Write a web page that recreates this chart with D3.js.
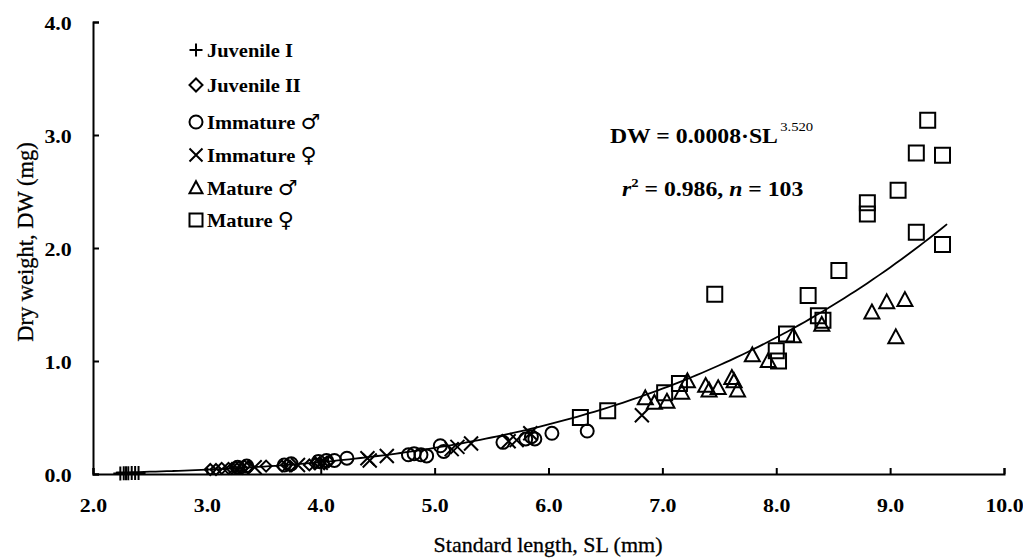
<!DOCTYPE html>
<html>
<head>
<meta charset="utf-8">
<script src="https://cdn.jsdelivr.net/npm/d3@7"></script>
<style>
  body { margin: 0; background: #fff; }
  svg text { font-family: "Liberation Serif", "Times New Roman", serif; font-weight: bold; fill: #000; }
  .sym { font-family: "DejaVu Sans", sans-serif; font-weight: normal; }
</style>
</head>
<body>
<div id="chart"></div>
<script>
// data: [SL (mm), DW (mg)]
const juvenileI = [[2.24,0.005],[2.27,0.006],[2.29,0.006],[2.31,0.007],[2.34,0.008],[2.37,0.008],[2.40,0.009]];
const juvenileII = [[3.03,0.04],[3.08,0.04],[3.13,0.05],[3.19,0.05],[3.22,0.05],[3.25,0.06],[3.28,0.06],[3.31,0.05],
  [3.33,0.07],[3.36,0.06],[3.52,0.07],[3.66,0.07],[3.70,0.08],[3.73,0.07],[3.90,0.08],[3.95,0.09],[3.99,0.10],[4.03,0.09],[4.07,0.11]];
const immatureMale = [[3.27,0.06],[3.35,0.07],[3.68,0.08],[3.74,0.09],[3.98,0.11],[4.05,0.12],[4.12,0.12],[4.23,0.14],
  [4.77,0.17],[4.82,0.18],[4.88,0.17],[4.93,0.16],[5.05,0.25],[5.08,0.20],[5.60,0.28],[5.80,0.31],[5.85,0.33],[5.88,0.31],[6.03,0.36],[6.34,0.38]];
const immatureFemale = [[3.42,0.06],[3.80,0.08],[4.00,0.10],[4.41,0.14],[4.43,0.12],[4.58,0.16],[5.15,0.22],[5.20,0.24],
  [5.32,0.27],[5.65,0.29],[5.72,0.30],[5.84,0.36],[6.82,0.52]];
const matureMale = [[6.85,0.67],[6.93,0.63],[7.04,0.64],[7.17,0.72],[7.22,0.82],[7.38,0.78],[7.41,0.74],[7.49,0.76],
  [7.61,0.85],[7.63,0.82],[7.66,0.74],[7.79,1.05],[7.93,1.00],[8.15,1.22],[8.40,1.32],[8.84,1.43],[8.97,1.52],[9.13,1.54],[9.05,1.21]];
const matureFemale = [[6.28,0.50],[6.52,0.56],[7.02,0.72],[7.15,0.80],[7.46,1.59],[8.00,1.09],[8.02,1.00],[8.09,1.24],
  [8.28,1.58],[8.37,1.40],[8.41,1.36],[8.55,1.80],[8.80,2.40],[8.80,2.30],[9.07,2.51],[9.23,2.84],[9.33,3.13],[9.46,2.82],[9.23,2.14],[9.46,2.03]];

const legendNames = ["Juvenile I", "Juvenile II", "Immature", "Immature", "Mature", "Mature"];
const legendSex = ["", "", "\u2642", "\u2640", "\u2642", "\u2640"];
const xTicks = [2, 3, 4, 5, 6, 7, 8, 9, 10];
const yTicks = [0, 1, 2, 3, 4];

// fitted power curve DW = a * SL^b
const fitA = 0.0008, fitB = 3.520;
const fitRange = [2.2, 9.5];

const width = 1023, height = 559;
const margin = { top: 22, right: 19, bottom: 85, left: 93 };

const svg = d3.select("#chart").append("svg")
  .attr("width", width).attr("height", height);

const x = d3.scaleLinear().domain([2, 10]).range([margin.left, width - margin.right]);
const y = d3.scaleLinear().domain([0, 4]).range([height - margin.bottom, margin.top]);

// symbol paths centred on 0,0
function shape(kind, s) {
  const h = s / 2;
  switch (kind) {
    case "plus": return `M${-h},0H${h}M0,${-h}V${h}`;
    case "diamond": return `M0,${-h}L${h},0L0,${h}L${-h},0Z`;
    case "circle": return `M${h},0A${h},${h} 0 1,1 ${-h},0A${h},${h} 0 1,1 ${h},0Z`;
    case "cross": return `M${-h},${-h}L${h},${h}M${-h},${h}L${h},${-h}`;
    case "triangle": return `M0,${-h * 1.05}L${h},${h * 0.8}L${-h},${h * 0.8}Z`;
    case "square": return `M${-h},${-h}H${h}V${h}H${-h}Z`;
  }
}

// horizontal text; the scan is a bit wider than tall, so sx stretches it
function label(px, py, size, sx, anchor) {
  return svg.append("g").attr("transform", `translate(${px},${py}) scale(${sx},1)`)
    .append("text").attr("text-anchor", anchor || "start").style("font-size", size + "px");
}

const series = [
  { data: juvenileI, kind: "plus", size: 14 },
  { data: juvenileII, kind: "diamond", size: 11 },
  { data: immatureMale, kind: "circle", size: 13 },
  { data: immatureFemale, kind: "cross", size: 14 },
  { data: matureMale, kind: "triangle", size: 15 },
  { data: matureFemale, kind: "square", size: 15 }
];

// axes
const yAxis = d3.axisLeft(y).tickValues(yTicks).tickFormat(d3.format(".1f"))
  .tickSizeInner(-6).tickSizeOuter(-6).tickPadding(19);
const xAxis = d3.axisBottom(x).tickValues(xTicks).tickFormat(d3.format(".1f"))
  .tickSizeInner(-6).tickSizeOuter(-6).tickPadding(24);

const gy = svg.append("g").attr("transform", `translate(${margin.left},0)`).call(yAxis);
const gx = svg.append("g").attr("transform", `translate(0,${height - margin.bottom})`).call(xAxis);
[gx, gy].forEach(g => {
  g.selectAll("path, line").attr("stroke", "#000").attr("stroke-width", 2);
  g.selectAll("text").style("font-size", "19.5px").attr("fill", "#000")
    .attr("transform", "scale(1.12,1)");
});
gy.selectAll("text").attr("dy", "0.36em");

// fit curve
const fitPts = d3.range(fitRange[0], fitRange[1] + 0.001, 0.05).map(s => [s, fitA * Math.pow(s, fitB)]);
svg.append("path")
  .attr("d", d3.line().x(d => x(d[0])).y(d => y(d[1])).curve(d3.curveMonotoneX)(fitPts))
  .attr("fill", "none").attr("stroke", "#000").attr("stroke-width", 1.8);

// points
series.forEach(s => {
  svg.append("g").selectAll("path").data(s.data).enter().append("path")
    .attr("transform", d => `translate(${x(d[0])},${y(d[1])})`)
    .attr("d", shape(s.kind, s.size))
    .attr("fill", "none").attr("stroke", "#000").attr("stroke-width", 2);
});

// legend
const legendRows = [50, 85, 122, 155, 188, 220];
series.forEach((s, i) => {
  svg.append("path")
    .attr("transform", `translate(196,${legendRows[i]})`)
    .attr("d", shape(s.kind, 13))
    .attr("fill", "none").attr("stroke", "#000").attr("stroke-width", 2);
  const t = label(207, legendRows[i] + 7, 19.5, 1.05);
  t.append("tspan").text(legendNames[i]);
  if (legendSex[i]) t.append("tspan").attr("class", "sym").attr("dx", 5).style("font-size", "21px")
    .text(legendSex[i]);
});

// equation
const eq = label(610, 143, 21, 1.13);
eq.append("tspan").text("DW = 0.0008\u00b7SL");
eq.append("tspan").attr("dy", -12).attr("dx", 2).style("font-size", "13px").style("font-weight", "normal")
  .text(fitB.toFixed(3));

const r2 = label(622, 196, 21, 1.13);
r2.append("tspan").style("font-style", "italic").text("r");
r2.append("tspan").attr("dy", -9).style("font-size", "13px").text("2");
r2.append("tspan").attr("dy", 9).text(" = 0.986, ");
r2.append("tspan").style("font-style", "italic").text("n");
r2.append("tspan").text(" = 103");

// axis titles
label(548, 552, 22, 1.0, "middle").style("font-weight", "normal").attr("stroke", "#000").attr("stroke-width", 0.3)
  .text("Standard length, SL (mm)");
svg.append("text").attr("transform", "translate(33,242) rotate(-90)").attr("text-anchor", "middle")
  .style("font-size", "22.5px").style("font-weight", "normal").attr("stroke", "#000").attr("stroke-width", 0.3)
  .text("Dry weight, DW (mg)");
</script>
</body>
</html>
